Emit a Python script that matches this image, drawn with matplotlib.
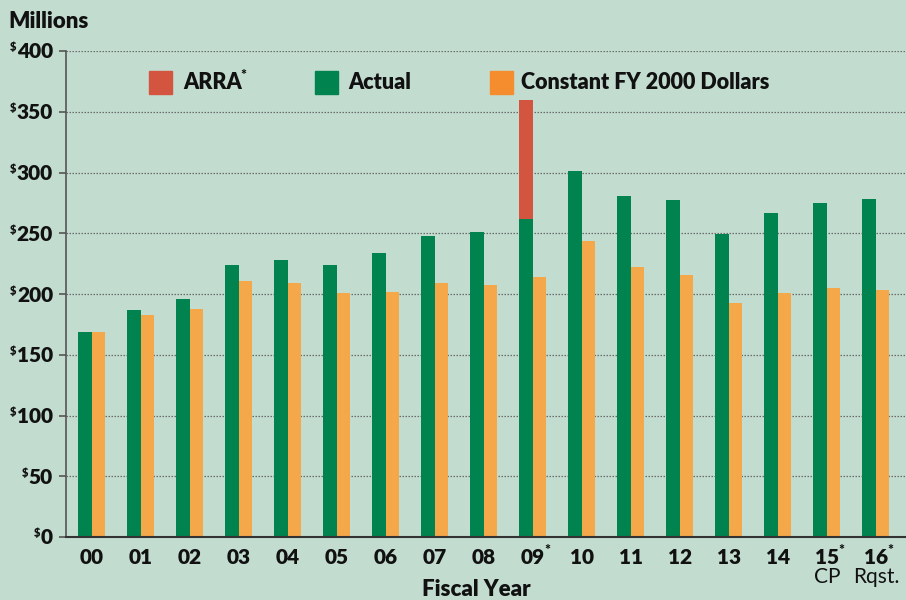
import matplotlib
matplotlib.use('Agg')
import matplotlib.pyplot as plt
import numpy as np
from matplotlib.patches import Rectangle
from matplotlib.transforms import offset_copy

# ---- data ----
years = ['00', '01', '02', '03', '04', '05', '06', '07', '08', '09',
         '10', '11', '12', '13', '14', '15', '16']
actual = [169, 187, 196, 224, 228, 224, 234, 248, 251, 262,
          301, 281, 277, 249, 267, 275, 278]
arra = [0, 0, 0, 0, 0, 0, 0, 0, 0, 98,
        0, 0, 0, 0, 0, 0, 0]
constant = [169, 183, 188, 211, 209, 201, 202, 209, 207, 214,
            244, 222, 216, 193, 201, 205, 203]
starred = ['09', '15', '16']
sublabels = {'15': 'CP', '16': 'Rqst.'}
yticks = [0, 50, 100, 150, 200, 250, 300, 350, 400]

BG = '#c2ddd0'
GREEN = '#00834f'
ORANGE = '#f4a84a'
ORANGE_LEG = '#f58c2d'
RED = '#d4553f'
INK = '#111111'
FONT = 'Lato'
WT = 'heavy'

plt.rcParams['font.family'] = [FONT, 'DejaVu Sans']

W, H = 906, 600
fig = plt.figure(figsize=(W / 100, H / 100), dpi=100, facecolor=BG)
ax = fig.add_axes([66 / W, 63 / H, 840 / W, 486 / H])
ax.set_facecolor(BG)

x = np.arange(len(years))
ax.bar(x, actual, width=-0.29, align='edge', color=GREEN, zorder=2)
ax.bar(x, arra, bottom=actual, width=-0.29, align='edge', color=RED, zorder=2)
ax.bar(x, constant, width=0.27, align='edge', color=ORANGE, zorder=2)

ax.set_xlim(-0.531, 16.612)
ax.set_ylim(0, 400)
ax.set_yticks(yticks)
ax.set_yticklabels([])
ax.set_xticks([])
ax.yaxis.grid(True, linestyle=(0, (1.2, 1.2)), color='#6a6a6a', lw=0.9)
ax.set_axisbelow(True)
for s in ['top', 'right']:
    ax.spines[s].set_visible(False)
ax.spines['left'].set_color('#555555')
ax.spines['left'].set_linewidth(1.2)
ax.spines['bottom'].set_color('#333333')
ax.spines['bottom'].set_linewidth(1.5)
ax.spines['bottom'].set_zorder(3)
ax.tick_params(axis='y', length=5, color='#555555', width=1.2)

fig.canvas.draw()
renderer = fig.canvas.get_renderer()


def fx(px):
    return px / W


def fy(py):
    return 1 - py / H


def sup(xpix, baseline_px, s, ha, size):
    fig.text(xpix / W, baseline_px / H, s, ha=ha, va='baseline',
             fontsize=size, fontweight=WT, color=INK)


# y tick labels with small superscript $
ytrans = offset_copy(ax.get_yaxis_transform(), fig, x=-13, y=-7.5, units='dots')
for v in yticks:
    t = ax.text(0, v, str(v), transform=ytrans, ha='right', va='baseline',
                fontsize=15, fontweight=WT, color=INK)
    bb = t.get_window_extent(renderer)
    base = ax.transData.transform((0, v))[1] - 7.5
    sup(bb.x0 - 0.5, base + 8, '$', 'right', 8)

# x labels
xtrans = offset_copy(ax.get_xaxis_transform(), fig, x=0, y=-27, units='dots')
xtrans2 = offset_copy(ax.get_xaxis_transform(), fig, x=0, y=-46, units='dots')
base0 = ax.transData.transform((0, 0))[1]
for i, yr in enumerate(years):
    t = ax.text(i, 0, yr, transform=xtrans, ha='center', va='baseline',
                fontsize=15, fontweight=WT, color=INK)
    if yr in starred:
        bb = t.get_window_extent(renderer)
        sup(bb.x1 - 1, base0 - 27 + 9, '*', 'left', 10)
    if yr in sublabels:
        ax.text(i, 0, sublabels[yr], transform=xtrans2, ha='center',
                va='baseline', fontsize=15, color=INK)

# titles
fig.text(fx(8), fy(22), 'Millions', ha='left', va='center', fontsize=16,
         fontweight=WT, color=INK)
fig.text(fx(476), fy(589), 'Fiscal Year', ha='center', va='center',
         fontsize=16, fontweight=WT, color=INK)

# legend
legend_items = [('ARRA', RED, 149, 183, True),
                ('Actual', GREEN, 315, 348, False),
                ('Constant FY 2000 Dollars', ORANGE_LEG, 490, 521, False)]
for label, col, sx, tx, star in legend_items:
    fig.patches.append(Rectangle((fx(sx), fy(94)), 23 / W, 23 / H,
                                 transform=fig.transFigure, color=col,
                                 figure=fig))
    t = fig.text(fx(tx), fy(89), label, ha='left', va='baseline',
                 fontsize=15.5, fontweight=WT, color=INK)
    if star:
        bb = t.get_window_extent(renderer)
        sup(bb.x1 - 1, H - 89 + 9, '*', 'left', 10)

fig.savefig('out.png', dpi=100, facecolor=BG)
